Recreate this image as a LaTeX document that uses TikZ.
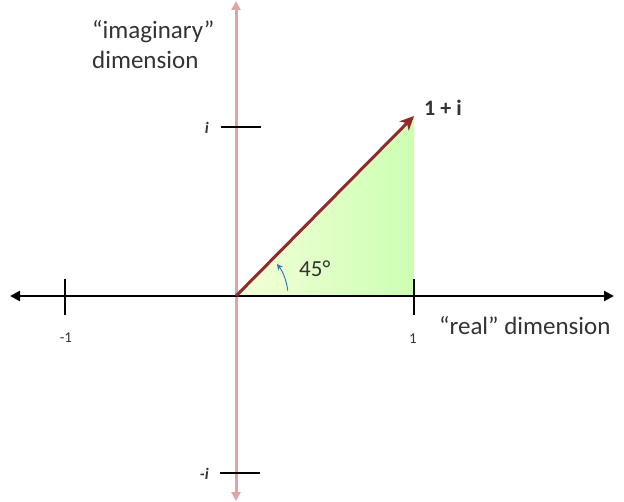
\documentclass[tikz,border=0pt]{standalone}
\usepackage{fontspec}
\setmainfont{Carlito}
\usetikzlibrary{arrows.meta,calc}
\definecolor{axispink}{HTML}{E2A3A3}
\definecolor{vecred}{HTML}{8E2B2B}
\definecolor{txt}{HTML}{333333}
\definecolor{arcblue}{HTML}{3A78B8}
\tikzset{
  lbl/.style={text=txt, font=\fontsize{25}{30}\selectfont, inner sep=0pt},
  small/.style={text=txt, font=\fontsize{15}{17}\selectfont, inner sep=0pt},
  tick/.style={line width=2.2pt, black},
}
\begin{document}
\begin{tikzpicture}[x=1pt,y=-1pt]
\useasboundingbox (0,0) rectangle (624,502);
\coordinate (O) at (236,296);
\coordinate (P) at (414,116);
\coordinate (Q) at (414,296);
% triangle
\shade[left color=green!8!lime!15, right color=lime!45!green!30!white] (O) -- (P) -- (Q) -- cycle;
% axes
\coordinate (xl) at (10,296);
\coordinate (xr) at (614,296);
\coordinate (yt) at (236,1);
\coordinate (yb) at (236,501);
\draw[axispink, line width=3pt, {Triangle[length=9pt,width=9pt]}-{Triangle[length=9pt,width=9pt]}] (yb) -- (yt);
\draw[black, line width=2.4pt, {Triangle[length=10pt,width=10pt]}-{Triangle[length=10pt,width=10pt]}] (xl) -- (xr);
% ticks
\coordinate (t1a) at (65,279); \coordinate (t1b) at (65,315);
\coordinate (t2a) at (414,279); \coordinate (t2b) at (414,315);
\coordinate (t3a) at (221,127); \coordinate (t3b) at (261,127);
\coordinate (t4a) at (220,473); \coordinate (t4b) at (260,473);
\draw[tick] (t1a) -- (t1b);
\draw[tick] (t2a) -- (t2b);
\draw[tick] (t3a) -- (t3b);
\draw[tick] (t4a) -- (t4b);
% vector
\draw[vecred, line width=3pt, -{Stealth[length=14pt,width=13pt,inset=4pt]}] (O) -- (P);
% angle arc
\draw[arcblue, line width=1pt, -{Stealth[length=6pt,width=6pt]}] ($(O)+(-6:52)$) arc[start angle=-6, end angle=-38, radius=52] ;
% labels
\node[lbl, anchor=west, font=\fontsize{22}{26}\selectfont\bfseries] (tp) at (424,108) {1 + i};
\node[lbl, anchor=west, font=\fontsize{23}{26}\selectfont] (ang) at (299,269) {45°};
\node[lbl, align=left, anchor=west] (im) at (92,45) {“imaginary”\\dimension};
\node[lbl, anchor=west] (re) at (439,326) {“real” dimension};
\node[small] (m1) at (66,338) {-1};
\node[small] (p1) at (413,339) {1};
\node[lbl, anchor=east, font=\fontsize{16}{18}\selectfont\bfseries\itshape] (ii) at (209,128) {i};
\node[lbl, anchor=east, font=\fontsize{16}{18}\selectfont\bfseries\itshape] (mi) at (209,474) {-i};
\end{tikzpicture}
\end{document}
